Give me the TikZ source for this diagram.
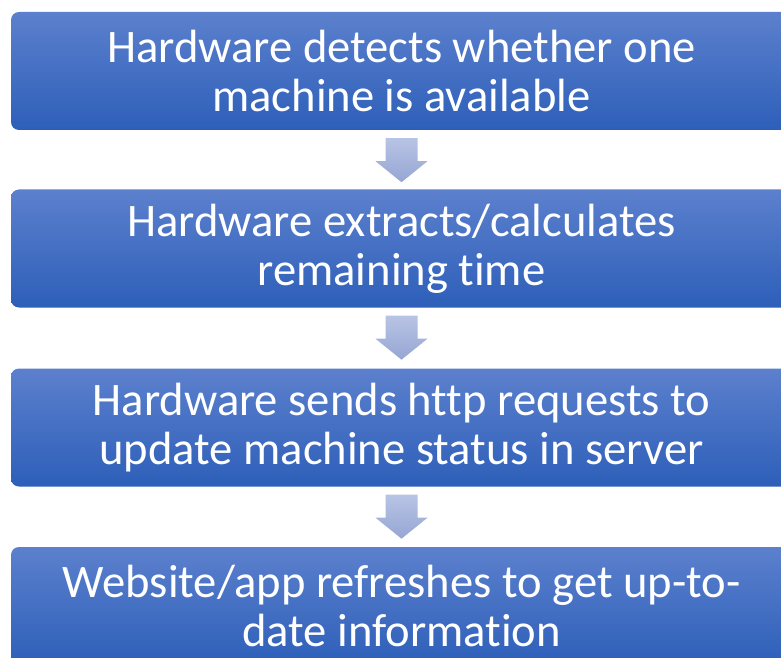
\documentclass[tikz,border=0pt]{standalone}
\usepackage{fontspec}
\setmainfont[Ligatures=NoCommon]{Carlito}
\usetikzlibrary{calc}
\definecolor{boxtop}{RGB}{92,128,205}
\definecolor{boxbot}{RGB}{45,95,185}
\definecolor{arrtop}{RGB}{184,196,229}
\definecolor{arrbot}{RGB}{150,166,211}
\tikzset{
  stepbox/.style={rounded corners=8pt, top color=boxtop, bottom color=boxbot,
    minimum width=781pt, minimum height=118pt, text=white, align=center,
    inner sep=0pt, font=\fontsize{46.6}{49}\selectfont},
  arrowfill/.style={top color=arrtop, bottom color=arrbot, draw=none}
}
\newcommand\flowarrow[1]{%
  \path[arrowfill] ($(#1.south)+(-16pt,-8pt)$) -- ($(#1.south)+(16pt,-8pt)$)
    -- ($(#1.south)+(16pt,-31pt)$) -- ($(#1.south)+(26pt,-31pt)$)
    -- ($(#1.south)+(0pt,-52pt)$) -- ($(#1.south)+(-26pt,-31pt)$)
    -- ($(#1.south)+(-16pt,-31pt)$) -- cycle;}
\begin{document}
\begin{tikzpicture}[x=1pt,y=1pt]
\useasboundingbox (0,0) rectangle (781,657);
\clip (0,0) rectangle (781,657);
\fill[white] (0,0) rectangle (781,657);
\node[stepbox] (b1) at (401.5,586) {Hardware detects whether one\\machine is available};
\node[stepbox] (b2) at (401.5,408.5) {Hardware extracts/calculates\\remaining time};
\node[stepbox] (b3) at (401.5,229.5) {Hardware sends http requests to\\update machine status in server};
\node[stepbox] (b4) at (401.5,51) {Website/app refreshes to get up-to-\\date information};
\flowarrow{b1}
\flowarrow{b2}
\flowarrow{b3}
\end{tikzpicture}
\end{document}
